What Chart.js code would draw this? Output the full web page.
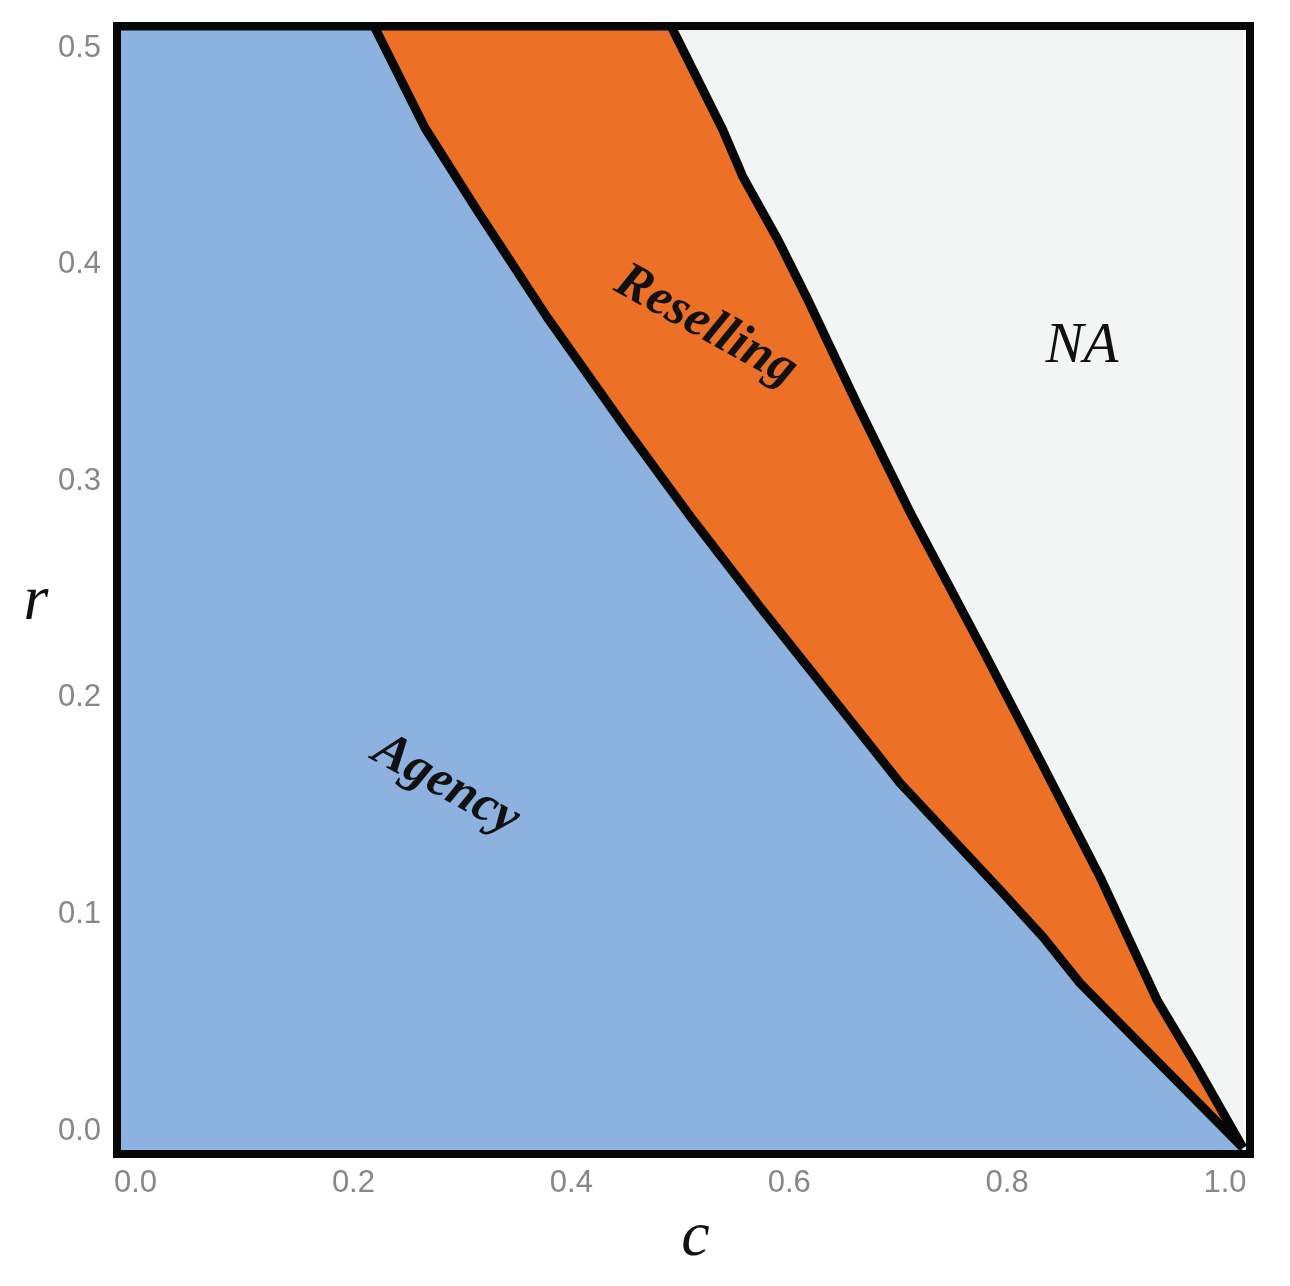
<!DOCTYPE html>
<html><head><meta charset="utf-8">
<script src="https://cdn.jsdelivr.net/npm/chart.js@4.4.0/dist/chart.umd.min.js"></script>
<style>html,body{margin:0;padding:0;background:#fff;} #wrap{width:1290px;height:1286px;position:relative;}</style>
</head><body><div id="wrap"><canvas id="cv"></canvas></div>
<script>
// ---- data ----
const xTickValues = [0.0, 0.2, 0.4, 0.6, 0.8, 1.0];
const yTickValues = [0.0, 0.1, 0.2, 0.3, 0.4, 0.5];
const xAxisRange = [-0.017, 1.0229];
const yAxisRange = [-0.0106, 0.5102];
// boundary between Agency and Reselling (c, r)
const lowerC = [0.2189, 0.2657, 0.3134, 0.3777, 0.4511, 0.5117, 0.5732, 0.6099, 0.6558, 0.7017, 0.7935, 0.8329, 0.8669, 0.9431, 1.0165];
const lowerR = [0.5102, 0.4631, 0.4252, 0.3758, 0.3236, 0.2821, 0.2419, 0.2188, 0.1898, 0.1607, 0.1113, 0.0896, 0.0683, 0.0295, -0.0078];
// boundary between Reselling and NA (c, r)
const upperC = [0.4915, 0.5392, 0.5576, 0.5897, 0.6172, 0.6649, 0.7108, 0.7778, 0.8302, 0.8853, 0.9376, 0.9743, 1.0165];
const upperR = [0.5102, 0.4621, 0.4404, 0.4114, 0.3837, 0.3329, 0.2858, 0.2221, 0.1713, 0.1173, 0.0605, 0.0295, -0.0078];
const regionNames = ['Agency', 'Reselling', 'NA'];
const regionLabelC = [0.285, 0.5236, 0.8687];
const regionLabelR = [0.1597, 0.3717, 0.362];
const axisTitleX = 'c';
const axisTitleY = 'r';

// ---- build ----
const corner = {x: xAxisRange[0], y: yAxisRange[1]};
const lowerPts = [corner].concat(lowerC.map((c, i) => ({x: c, y: lowerR[i]})));
const upperPts = [corner].concat(upperC.map((c, i) => ({x: c, y: upperR[i]})));

const COL_AGENCY = '#8db2df', COL_RESELL = '#ec7026', COL_NA = '#f3f5f4', COL_LINE = '#050807';
const SERIF = '"Liberation Serif", "Times New Roman", Times, serif';

const regionStyles = [
  {font: 'italic bold 52px ' + SERIF, rot: 29},
  {font: 'italic bold 52px ' + SERIF, rot: 29},
  {font: 'italic 57px ' + SERIF, rot: 0}
];

const decorPlugin = {
  id: 'decor',
  afterDatasetsDraw(chart) {
    const {ctx, chartArea: a, scales} = chart;
    ctx.save();
    ctx.lineWidth = 8;
    ctx.strokeStyle = COL_LINE;
    ctx.lineJoin = 'miter';
    ctx.strokeRect(a.left, a.top, a.right - a.left, a.bottom - a.top);
    ctx.fillStyle = '#111';
    ctx.textAlign = 'center';
    ctx.textBaseline = 'middle';
    regionNames.forEach((name, i) => {
      const px = scales.x.getPixelForValue(regionLabelC[i]);
      const py = scales.y.getPixelForValue(regionLabelR[i]);
      ctx.save();
      ctx.translate(px, py);
      ctx.rotate(regionStyles[i].rot * Math.PI / 180);
      ctx.font = regionStyles[i].font;
      ctx.fillText(name, 0, 0);
      ctx.restore();
    });
    ctx.font = 'italic 64px ' + SERIF;
    ctx.fillText(axisTitleX, (a.left + a.right) / 2 + 12, a.bottom + 84);
    ctx.fillText(axisTitleY, 36, (a.top + a.bottom) / 2 + 12);
    ctx.restore();
  }
};

const tickFont = {family: '"Liberation Sans", Arial, sans-serif', size: 31};
const noPad = s => { s.paddingTop = 0; s.paddingBottom = 0; s.paddingLeft = 0; s.paddingRight = 0; };

function build() {
  new Chart(document.getElementById('cv'), {
    type: 'scatter',
    data: {
      datasets: [
        {label: 'Agency', data: lowerPts, showLine: true, fill: 'start', backgroundColor: COL_AGENCY,
         borderColor: COL_LINE, borderWidth: 9, pointRadius: 0, tension: 0, borderJoinStyle: 'round'},
        {label: 'Reselling', data: upperPts, showLine: true, fill: 'start', backgroundColor: COL_RESELL,
         borderColor: COL_LINE, borderWidth: 9, pointRadius: 0, tension: 0, borderJoinStyle: 'round'},
        {label: 'NA', data: upperPts, showLine: true, fill: 'end', backgroundColor: COL_NA,
         borderColor: 'rgba(0,0,0,0)', borderWidth: 0, pointRadius: 0, tension: 0}
      ]
    },
    options: {
      responsive: true,
      maintainAspectRatio: false,
      animation: false,
      layout: {padding: {left: 0, top: 26, right: 40, bottom: 0}},
      plugins: {legend: {display: false}, tooltip: {enabled: false}},
      scales: {
        x: {
          type: 'linear', min: xAxisRange[0], max: xAxisRange[1],
          grid: {display: false, drawTicks: false}, border: {display: false},
          ticks: {font: tickFont, color: '#878787', padding: 11, maxRotation: 0,
                  callback: v => v.toFixed(1)},
          afterBuildTicks: axis => { axis.ticks = xTickValues.map(v => ({value: v})); },
          afterFit: s => { s.height = 132; noPad(s); }
        },
        y: {
          type: 'linear', min: yAxisRange[0], max: yAxisRange[1],
          grid: {display: false, drawTicks: false}, border: {display: false},
          ticks: {font: tickFont, color: '#878787', padding: 16,
                  callback: v => v.toFixed(1)},
          afterBuildTicks: axis => { axis.ticks = yTickValues.map(v => ({value: v})); },
          afterFit: s => { s.width = 117; noPad(s); }
        }
      }
    },
    plugins: [decorPlugin]
  });
}

Promise.all([
  document.fonts.load('italic bold 52px "Liberation Serif"'),
  document.fonts.load('italic 57px "Liberation Serif"'),
  document.fonts.load('31px "Liberation Sans"')
]).then(build, build);
</script>
</body></html>
